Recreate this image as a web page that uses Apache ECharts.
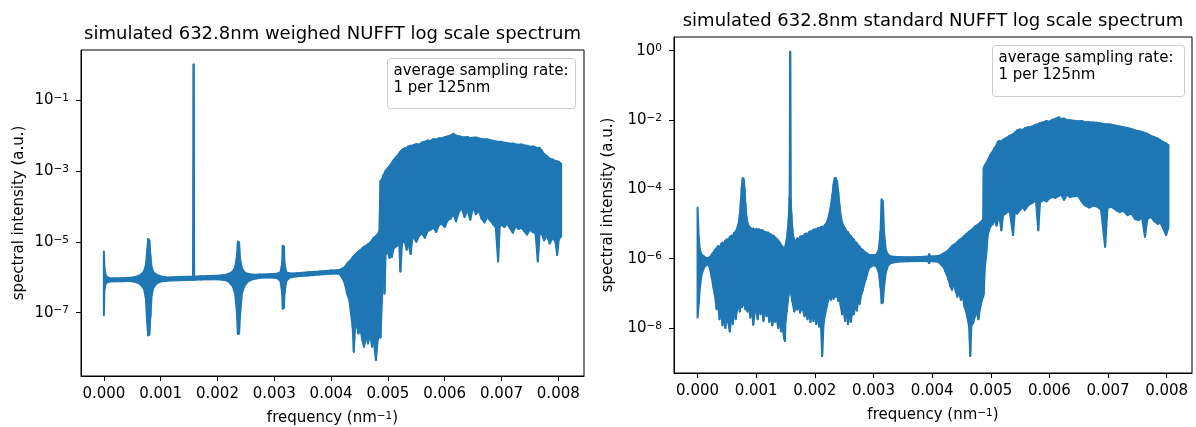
<!DOCTYPE html>
<html>
<head>
<meta charset="utf-8">
<script src="https://cdn.jsdelivr.net/npm/echarts@6/dist/echarts.min.js"></script>
<style>
  html, body { margin: 0; padding: 0; background: #fff; }
  #chart { width: 1196px; height: 427px; }
</style>
</head>
<body>
<div id="chart"></div>
<script>
// Frequency ticks (nm^-1) shared by both panels
const freqTicks = [0, 0.001, 0.002, 0.003, 0.004, 0.005, 0.006, 0.007, 0.008];
// Labelled decades on each intensity axis
const weighedDecades = [1e-7, 1e-5, 1e-3, 1e-1];
const standardDecades = [1e-8, 1e-6, 1e-4, 1e-2, 1];

// Spectrum envelopes: [frequency (nm^-1), upper intensity, lower intensity]
const weighedBand = [
  [0, 5.3e-6, 8.5e-8], [0.00001, 1.8e-6, 4.5e-7], [0.00003, 1.15e-6, 6.5e-7], [0.00006, 1.0e-6, 7.2e-7],
  [0.0001, 9.3e-7, 7.6e-7], [0.0003, 9.4e-7, 7.7e-7], [0.00045, 9.6e-7, 7.8e-7], [0.00055, 1.02e-6, 7.4e-7],
  [0.00062, 1.1e-6, 6.8e-7], [0.00067, 1.25e-6, 5.8e-7], [0.00071, 1.5e-6, 4.5e-7], [0.00074, 2.2e-6, 2.5e-7],
  [0.00076, 5.0e-6, 6e-8], [0.00078, 1.2e-5, 2.3e-8], [0.0008, 1.1e-5, 2.4e-8], [0.00082, 4.0e-6, 8e-8],
  [0.00084, 1.9e-6, 3.0e-7], [0.00087, 1.4e-6, 5.0e-7], [0.00092, 1.2e-6, 6.5e-7], [0.001, 1.05e-6, 7.6e-7],
  [0.0011, 9.9e-7, 8.0e-7], [0.0013, 1.01e-6, 8.2e-7], [0.0015, 1.03e-6, 8.4e-7], [0.00157, 1.04e-6, 8.5e-7],
  [0.00158, 1.0, 8.5e-7], [0.00159, 1.04e-6, 8.5e-7], [0.0017, 1.06e-6, 8.6e-7], [0.002, 1.1e-6, 8.8e-7],
  [0.00212, 1.15e-6, 8.4e-7], [0.0022, 1.25e-6, 7.5e-7], [0.00227, 1.45e-6, 5.5e-7], [0.00231, 1.9e-6, 3.5e-7],
  [0.00234, 3.5e-6, 1.2e-7], [0.00236, 1.0e-5, 2.5e-8], [0.00238, 9.5e-6, 2.6e-8], [0.0024, 3.0e-6, 1.0e-7],
  [0.00243, 1.8e-6, 3.5e-7], [0.00247, 1.4e-6, 5.5e-7], [0.00253, 1.25e-6, 7.5e-7], [0.00262, 1.18e-6, 8.8e-7],
  [0.00275, 1.19e-6, 9.7e-7], [0.0029, 1.22e-6, 9.9e-7], [0.00305, 1.26e-6, 9.5e-7], [0.00311, 1.4e-6, 7.8e-7],
  [0.00314, 2.5e-6, 3.5e-7], [0.00315, 7.7e-6, 1.3e-7], [0.00317, 7.2e-6, 1.4e-7], [0.00318, 2.4e-6, 3.5e-7],
  [0.00321, 1.4e-6, 7.8e-7], [0.00327, 1.28e-6, 9.8e-7], [0.0034, 1.3e-6, 1.06e-6], [0.0036, 1.38e-6, 1.12e-6],
  [0.0038, 1.46e-6, 1.19e-6], [0.004, 1.55e-6, 1.26e-6], [0.00415, 1.61e-6, 1.25e-6], [0.00418, 1.7e-6, 1.05e-6],
  [0.00422, 1.85e-6, 8.3e-7], [0.00425, 2.0e-6, 6.0e-7], [0.00428, 2.4e-6, 3.5e-7], [0.00432, 2.8e-6, 2.3e-7],
  [0.00435, 3.1e-6, 9.5e-8], [0.00438, 3.6e-6, 4.0e-8], [0.0044, 3.9e-6, 7.9e-9], [0.00442, 4.2e-6, 3.2e-8],
  [0.00445, 4.8e-6, 5.0e-8], [0.00448, 5.2e-6, 2.6e-8], [0.00452, 5.9e-6, 3.2e-8], [0.00455, 6.6e-6, 1.7e-8],
  [0.00458, 7.2e-6, 1.1e-8], [0.00462, 7.8e-6, 2.1e-8], [0.00465, 8.5e-6, 1.35e-8], [0.00469, 9.5e-6, 2.6e-8],
  [0.00472, 1.1e-5, 1.1e-8], [0.00475, 1.3e-5, 1.7e-8], [0.00479, 1.45e-5, 4.6e-9], [0.00482, 1.6e-5, 1.7e-8],
  [0.00485, 1.95e-5, 2.3e-8], [0.00487, 5.2e-4, 2.0e-8], [0.0049, 6.0e-4, 3.5e-7], [0.00492, 7.5e-4, 3.0e-6],
  [0.00494, 8.5e-4, 3.5e-7], [0.00496, 1.0e-3, 4.5e-6], [0.005, 1.2e-3, 5.0e-6], [0.00503, 1.35e-3, 3.5e-6],
  [0.00505, 1.5e-3, 5.5e-6], [0.00507, 1.7e-3, 3.8e-6], [0.0051, 2.0e-3, 6.5e-6], [0.00515, 2.5e-3, 7.5e-6],
  [0.0052, 3.1e-3, 8.5e-6], [0.00522, 3.5e-3, 1.45e-6], [0.00525, 3.9e-3, 9.5e-6], [0.0053, 4.4e-3, 1.0e-5],
  [0.00533, 4.2e-3, 6.0e-6], [0.00535, 4.8e-3, 1.1e-5], [0.0054, 5.1e-3, 4.5e-6], [0.00543, 4.9e-3, 1.2e-5],
  [0.00545, 5.4e-3, 1.35e-5], [0.0055, 5.7e-3, 1.0e-5], [0.00555, 5.5e-3, 1.5e-5], [0.0056, 6.3e-3, 1.7e-5],
  [0.00565, 6.6e-3, 1.3e-5], [0.0057, 7.2e-3, 2.0e-5], [0.00575, 7.0e-3, 2.2e-5], [0.0058, 7.9e-3, 2.5e-5],
  [0.00585, 7.6e-3, 1.9e-5], [0.0059, 8.4e-3, 3.0e-5], [0.00595, 8.2e-3, 3.2e-5], [0.006, 8.9e-3, 2.6e-5],
  [0.00605, 9.3e-3, 4.0e-5], [0.0061, 9.8e-3, 4.5e-5], [0.00615, 1.12e-2, 6.0e-5], [0.0062, 9.9e-3, 3.8e-5],
  [0.00625, 9.5e-3, 7.0e-5], [0.0063, 9.0e-3, 9.0e-5], [0.00635, 8.7e-3, 5.0e-5], [0.0064, 9.1e-3, 8.0e-5],
  [0.00645, 8.4e-3, 4.2e-5], [0.0065, 8.6e-3, 9.5e-5], [0.00655, 8.8e-3, 6.0e-5], [0.0066, 8.2e-3, 7.5e-5],
  [0.00665, 8.0e-3, 4.5e-5], [0.0067, 7.7e-3, 3.5e-5], [0.00675, 7.8e-3, 5.0e-5], [0.0068, 7.3e-3, 4.0e-5],
  [0.00685, 7.1e-3, 3.2e-5], [0.0069, 6.8e-3, 2.5e-5], [0.00694, 6.6e-3, 2.8e-6], [0.00697, 6.5e-3, 2.8e-5],
  [0.007, 6.6e-3, 3.0e-5], [0.00705, 6.2e-3, 2.6e-5], [0.0071, 6.1e-3, 3.3e-5], [0.00715, 5.8e-3, 2.4e-5],
  [0.0072, 5.9e-3, 1.8e-5], [0.00725, 5.6e-3, 2.8e-5], [0.0073, 5.5e-3, 2.3e-5], [0.00735, 5.6e-3, 2.5e-5],
  [0.0074, 5.2e-3, 2.0e-5], [0.00745, 5.1e-3, 1.6e-5], [0.0075, 4.8e-3, 2.2e-5], [0.00755, 4.9e-3, 1.9e-5],
  [0.0076, 4.6e-3, 1.7e-5], [0.00764, 4.4e-3, 2.8e-6], [0.00767, 4.5e-3, 1.6e-5], [0.0077, 3.9e-3, 1.9e-5],
  [0.00775, 3.0e-3, 1.1e-5], [0.0078, 2.6e-3, 1.5e-5], [0.00785, 2.2e-3, 9.0e-6], [0.0079, 2.1e-3, 1.3e-5],
  [0.00795, 1.9e-3, 1.0e-5], [0.00798, 1.85e-3, 4.3e-6], [0.00801, 1.8e-3, 1.2e-5], [0.00805, 1.6e-3, 1.4e-5]
];

const standardBand = [
  [0, 3.0e-5, 2.0e-8], [0.00002, 4.0e-6, 5.0e-8], [0.00004, 1.8e-6, 1.5e-7], [0.00007, 1.3e-6, 3.5e-7],
  [0.00011, 1.15e-6, 5.5e-7], [0.00015, 1.05e-6, 6.5e-7], [0.00018, 1.05e-6, 7.0e-7], [0.00021, 1.1e-6, 5.5e-7],
  [0.00024, 1.3e-6, 3.0e-7], [0.00027, 1.5e-6, 1.5e-7],
  [0.0003, 1.8e-6, 8.0e-8], [0.000325, 2.0e-6, 3.5e-8], [0.00035, 2.3e-6, 5.0e-8], [0.000375, 2.1e-6, 1.8e-8],
  [0.0004, 2.6e-6, 3.0e-8], [0.000425, 2.9e-6, 1.2e-8], [0.00045, 2.7e-6, 2.2e-8], [0.000475, 3.3e-6, 1.0e-8],
  [0.0005, 3.6e-6, 2.5e-8], [0.000525, 3.4e-6, 1.4e-8], [0.00055, 4.2e-6, 7.9e-9], [0.000575, 4.6e-6, 2.0e-8],
  [0.0006, 4.4e-6, 1.3e-8], [0.000625, 5.5e-6, 3.0e-8], [0.00065, 6.0e-6, 1.8e-8], [0.000675, 7.5e-6, 3.5e-8],
  [0.0007, 1.0e-5, 4.5e-8], [0.00072, 1.8e-5, 3.0e-8], [0.00074, 5.0e-5, 5.5e-8], [0.000755, 1.2e-4, 4.0e-8],
  [0.00077, 2.1e-4, 6.0e-8], [0.000785, 2.0e-4, 4.5e-8], [0.0008, 1.1e-4, 5.5e-8], [0.000815, 4.0e-5, 3.5e-8],
  [0.00083, 1.8e-5, 4.5e-8], [0.00085, 1.1e-5, 3.0e-8], [0.000875, 8.5e-6, 4.0e-8], [0.0009, 7.8e-6, 2.0e-8],
  [0.000925, 7.0e-6, 3.5e-8], [0.00095, 7.4e-6, 1.25e-8], [0.000975, 6.6e-6, 2.8e-8], [0.001, 7.2e-6, 3.5e-8],
  [0.001025, 6.8e-6, 1.8e-8], [0.00105, 7.0e-6, 4.0e-8], [0.001075, 6.4e-6, 2.5e-8], [0.0011, 6.7e-6, 3.2e-8],
  [0.001125, 6.1e-6, 1.6e-8], [0.00115, 6.0e-6, 3.5e-8], [0.001175, 5.6e-6, 2.2e-8], [0.0012, 5.7e-6, 2.8e-8],
  [0.001225, 5.2e-6, 1.5e-8], [0.00125, 5.0e-6, 2.6e-8], [0.001275, 4.6e-6, 1.2e-8], [0.0013, 4.6e-6, 2.4e-8],
  [0.001325, 4.0e-6, 1.5e-8], [0.00135, 3.7e-6, 2.0e-8], [0.001375, 3.3e-6, 1.0e-8], [0.0014, 2.9e-6, 1.4e-8],
  [0.001425, 2.5e-6, 8.0e-9], [0.00145, 2.2e-6, 1.2e-8], [0.001475, 1.9e-6, 5.0e-9], [0.00149, 2.0e-6, 4.2e-9],
  [0.0015, 2.4e-6, 1.5e-8], [0.00152, 3.5e-6, 3.0e-8], [0.00154, 7.0e-6, 6.0e-8], [0.001555, 1.5e-5, 9.0e-8],
  [0.00157, 6.0e-5, 1.2e-7], [0.00158, 0.93, 1.5e-7], [0.00159, 5.0e-5, 1.2e-7], [0.0016, 2.0e-5, 9.0e-8],
  [0.001615, 8.0e-6, 6.0e-8], [0.00163, 4.5e-6, 4.5e-8], [0.00165, 3.5e-6, 3.0e-8], [0.001675, 3.2e-6, 4.2e-8],
  [0.0017, 3.8e-6, 3.4e-8], [0.001725, 3.6e-6, 4.5e-8], [0.00175, 4.2e-6, 2.8e-8], [0.001775, 4.5e-6, 4.0e-8],
  [0.0018, 4.2e-6, 3.3e-8], [0.001825, 5.0e-6, 2.2e-8], [0.00185, 5.3e-6, 3.5e-8], [0.001875, 5.0e-6, 1.8e-8],
  [0.0019, 5.8e-6, 2.6e-8], [0.001925, 6.2e-6, 1.5e-8], [0.00195, 6.0e-6, 3.0e-8], [0.001975, 6.8e-6, 1.6e-8],
  [0.002, 7.0e-6, 2.4e-8], [0.002025, 6.8e-6, 1.3e-8], [0.00205, 7.6e-6, 2.0e-8], [0.002075, 7.4e-6, 1.1e-8],
  [0.0021, 8.0e-6, 1.8e-8], [0.002125, 8.4e-6, 1.55e-9], [0.00215, 8.2e-6, 1.4e-8], [0.002175, 9.5e-6, 2.5e-8],
  [0.0022, 1.05e-5, 4.0e-8], [0.002225, 1.4e-5, 6.0e-8], [0.00225, 2.0e-5, 8.0e-8], [0.002275, 3.5e-5, 6.5e-8],
  [0.0023, 7.0e-5, 9.0e-8], [0.00232, 1.4e-4, 7.0e-8], [0.00234, 2.1e-4, 1.0e-7], [0.00236, 2.1e-4, 8.0e-8],
  [0.00238, 1.6e-4, 9.0e-8], [0.0024, 8.0e-5, 6.0e-8], [0.00242, 3.5e-5, 7.5e-8], [0.00244, 1.8e-5, 4.5e-8],
  [0.002465, 1.1e-5, 2.5e-8], [0.00249, 8.5e-6, 3.5e-8], [0.002515, 7.5e-6, 1.6e-8], [0.00254, 6.2e-6, 2.8e-8],
  [0.002565, 5.8e-6, 1.3e-8], [0.00259, 4.8e-6, 2.2e-8], [0.002615, 4.5e-6, 1.5e-8], [0.00264, 3.8e-6, 3.0e-8],
  [0.002665, 3.6e-6, 2.5e-8], [0.00269, 3.0e-6, 4.2e-8], [0.002715, 2.8e-6, 3.2e-8], [0.00274, 2.4e-6, 6.0e-8],
  [0.002765, 2.2e-6, 5.0e-8], [0.00279, 1.9e-6, 9.0e-8], [0.002815, 1.8e-6, 1.2e-7], [0.00284, 1.6e-6, 1.8e-7],
  [0.002865, 1.5e-6, 2.5e-7], [0.00289, 1.4e-6, 3.5e-7], [0.002915, 1.3e-6, 5.0e-7], [0.00295, 1.27e-6, 5.8e-7],
  [0.003, 1.25e-6, 6.5e-7], [0.00305, 1.3e-6, 6.0e-7], [0.00309, 1.8e-6, 4.0e-7], [0.00312, 6.0e-6, 1.5e-7],
  [0.00314, 5.1e-5, 5.2e-8], [0.00316, 4.5e-5, 5.5e-8], [0.00318, 6.0e-6, 1.5e-7], [0.00321, 1.8e-6, 4.0e-7],
  [0.00325, 1.3e-6, 6.5e-7], [0.0033, 1.15e-6, 7.5e-7], [0.0034, 1.12e-6, 8.2e-7], [0.0036, 1.1e-6, 8.5e-7],
  [0.0038, 1.12e-6, 8.6e-7], [0.00393, 1.15e-6, 8.5e-7], [0.00395, 1.35e-6, 7.5e-7], [0.00397, 1.15e-6, 8.6e-7],
  [0.0041, 1.2e-6, 8.2e-7], [0.00413, 1.22e-6, 7.5e-7], [0.00416, 1.3e-6, 6.5e-7], [0.00419, 1.4e-6, 6.0e-7],
  [0.00422, 1.5e-6, 4.5e-7], [0.00425, 1.6e-6, 3.5e-7], [0.00428, 1.8e-6, 2.5e-7], [0.00431, 2.0e-6, 1.6e-7],
  [0.00434, 2.3e-6, 1.26e-7], [0.00437, 2.5e-6, 2.0e-7], [0.0044, 2.7e-6, 1.2e-7], [0.00443, 3.0e-6, 8.0e-8],
  [0.00446, 3.4e-6, 1.1e-7], [0.00449, 3.7e-6, 6.5e-8], [0.00452, 4.0e-6, 9.0e-8], [0.00455, 4.5e-6, 4.2e-8],
  [0.00458, 5.1e-6, 3.0e-8], [0.00461, 5.6e-6, 1.7e-8], [0.00463, 6.0e-6, 1.1e-8], [0.00465, 6.3e-6, 1.55e-9],
  [0.00467, 6.6e-6, 1.2e-8], [0.0047, 7.5e-6, 1.4e-8], [0.00473, 8.5e-6, 2.2e-8], [0.00476, 9.0e-6, 2.7e-8],
  [0.00479, 9.8e-6, 1.8e-8], [0.00482, 1.1e-5, 4.0e-8], [0.00485, 1.25e-5, 6.5e-8], [0.00487, 1.3e-5, 8.0e-8],
  [0.00488, 4.1e-4, 1.0e-7], [0.0049, 5.0e-4, 5.9e-7], [0.00492, 5.6e-4, 1.15e-6], [0.00495, 7.0e-4, 5.0e-6],
  [0.00499, 9.7e-4, 8.3e-6], [0.00503, 1.2e-3, 1.0e-5], [0.00506, 1.5e-3, 1.3e-5], [0.0051, 1.9e-3, 9.0e-6],
  [0.00512, 2.3e-3, 1.3e-5], [0.00515, 2.5e-3, 1.6e-5], [0.00518, 2.4e-3, 6.6e-6], [0.00521, 2.7e-3, 1.8e-5],
  [0.00525, 2.9e-3, 2.0e-5], [0.0053, 3.3e-3, 2.3e-5], [0.00532, 3.5e-3, 2.5e-5], [0.00538, 3.9e-3, 4.8e-6],
  [0.00541, 4.3e-3, 2.2e-5], [0.00545, 5.0e-3, 2.0e-5], [0.0055, 5.3e-3, 2.6e-5], [0.00555, 5.2e-3, 3.1e-5],
  [0.00558, 5.8e-3, 2.5e-5], [0.00564, 6.2e-3, 3.5e-5], [0.0057, 6.4e-3, 4.0e-5], [0.00577, 7.3e-3, 4.8e-5],
  [0.00581, 7.6e-3, 6.6e-6], [0.00584, 8.2e-3, 4.2e-5], [0.0059, 8.6e-3, 5.0e-5], [0.00595, 9.4e-3, 4.5e-5],
  [0.006, 9.0e-3, 5.5e-5], [0.00605, 1.02e-2, 6.0e-5], [0.0061, 1.07e-2, 5.7e-5], [0.00616, 1.2e-2, 6.5e-5],
  [0.0062, 1.05e-2, 7.1e-5], [0.00625, 1.1e-2, 5.0e-5], [0.0063, 1.0e-2, 7.0e-5], [0.00635, 9.8e-3, 6.0e-5],
  [0.00642, 9.5e-3, 6.3e-5], [0.00649, 9.2e-3, 6.5e-5], [0.00655, 9.4e-3, 4.5e-5], [0.0066, 8.8e-3, 3.5e-5],
  [0.00668, 8.6e-3, 3.0e-5], [0.00675, 8.5e-3, 3.4e-5], [0.00681, 8.3e-3, 3.2e-5], [0.00688, 8.0e-3, 2.6e-5],
  [0.00695, 7.6e-3, 2.2e-6], [0.00699, 7.6e-3, 2.8e-5], [0.00704, 7.4e-3, 3.2e-5], [0.00708, 7.2e-3, 3.0e-5],
  [0.00714, 6.8e-3, 2.5e-5], [0.0072, 6.5e-3, 2.2e-5], [0.00726, 6.2e-3, 2.4e-5], [0.00733, 5.9e-3, 1.8e-5],
  [0.0074, 5.5e-3, 2.0e-5], [0.00746, 5.0e-3, 1.4e-5], [0.00752, 4.8e-3, 1.3e-5], [0.00758, 4.5e-3, 1.5e-5],
  [0.00763, 4.2e-3, 4.3e-6], [0.00767, 4.0e-3, 1.4e-5], [0.00773, 3.5e-3, 1.6e-5], [0.00779, 3.2e-3, 1.2e-5],
  [0.00785, 2.9e-3, 1.0e-5], [0.00789, 2.6e-3, 1.1e-5], [0.00794, 2.3e-3, 7.5e-6], [0.00799, 2.1e-3, 4.8e-6],
  [0.00803, 1.9e-3, 8.0e-6]
];

const BLUE = '#1f77b4';
const FONT = 'DejaVu Sans';
const TEXT = '#000';

// One filled segment between consecutive samples of the upper/lower envelope
function bandSegment(params, api) {
  const i = params.dataIndexInside;
  if (i >= params.dataInsideLength - 1) return null;
  const f0 = api.value(0, i);
  const f1 = api.value(0, i + 1);
  const points = [
    api.coord([f0, api.value(1, i)]),
    api.coord([f1, api.value(1, i + 1)]),
    api.coord([f1, api.value(2, i + 1)]),
    api.coord([f0, api.value(2, i)])
  ];
  return {
    type: 'polygon',
    shape: { points: points },
    style: { fill: BLUE, stroke: BLUE, lineWidth: 2, lineJoin: 'round' }
  };
}

const supRich = {
  base: { fontSize: 15, lineHeight: 15, padding: [3, 0, 0, 0], verticalAlign: 'bottom', fontFamily: FONT, color: TEXT },
  sup: { fontSize: 10.5, lineHeight: 13, verticalAlign: 'top', fontFamily: FONT, color: TEXT }
};

function decadeLabel(v) {
  const e = Math.round(Math.log10(v));
  return '{base|10}{sup|' + String(e).replace('-', '\u2212') + '}';
}

const spine = { show: true, onZero: false, lineStyle: { color: '#000', width: 1 } };

function freqAxis(gridIndex, min, max) {
  return {
    type: 'value', gridIndex: gridIndex, min: min, max: max,
    name: '{base|frequency (nm}{sup|\u22121}{base|)}', nameLocation: 'middle', nameGap: 35,
    nameTextStyle: { rich: supRich },
    splitLine: { show: false },
    axisLine: spine,
    axisTick: { show: true, length: 5, customValues: freqTicks, lineStyle: { color: '#000', width: 1 } },
    axisLabel: {
      customValues: freqTicks, margin: 11, fontSize: 15, fontFamily: FONT, color: TEXT,
      formatter: function (v) { return Number(v).toFixed(3); }
    }
  };
}

function intensityAxis(gridIndex, min, max, decades, nameGap) {
  return {
    type: 'log', logBase: 10, gridIndex: gridIndex, min: min, max: max,
    name: 'spectral intensity (a.u.)', nameLocation: 'middle', nameRotate: 90, nameGap: nameGap,
    nameTextStyle: { fontSize: 15, fontFamily: FONT, color: TEXT },
    splitLine: { show: false },
    axisLine: spine,
    axisTick: { show: true, length: 5, customValues: decades, lineStyle: { color: '#000', width: 1 } },
    axisLabel: { customValues: decades, margin: 12, formatter: decadeLabel, rich: supRich }
  };
}

function legendBox(x, y, w, h) {
  return [
    {
      type: 'rect', z: 100,
      shape: { x: x, y: y, width: w, height: h, r: 3 },
      style: { fill: 'rgba(255,255,255,0.8)', stroke: '#cccccc', lineWidth: 1 }
    },
    {
      type: 'text', z: 101, x: x + 6, y: y + 4.5,
      style: {
        text: 'average sampling rate:\n1 per 125nm',
        font: '15px "' + FONT + '"', fill: TEXT, lineHeight: 17,
        textAlign: 'left', textVerticalAlign: 'top'
      }
    }
  ];
}

const chart = echarts.init(document.getElementById('chart'), null, { renderer: 'canvas' });

chart.setOption({
  animation: false,
  backgroundColor: '#fff',
  grid: [
    { left: 81, top: 50, width: 503, height: 326, outerBoundsMode: 'none', containLabel: false,
      show: true, borderColor: '#000', borderWidth: 1, backgroundColor: 'transparent' },
    { left: 674, top: 37, width: 518, height: 336, outerBoundsMode: 'none', containLabel: false,
      show: true, borderColor: '#000', borderWidth: 1, backgroundColor: 'transparent' }
  ],
  xAxis: [
    freqAxis(0, -0.0004025, 0.0084525),
    freqAxis(1, -0.0004015, 0.0084315)
  ],
  yAxis: [
    intensityAxis(0, 1.637e-9, 2.573, weighedDecades, 54),
    intensityAxis(1, 5.04e-10, 2.483, standardDecades, 58)
  ],
  series: [
    {
      type: 'custom', xAxisIndex: 0, yAxisIndex: 0, clip: true,
      dimensions: ['freq', 'upper', 'lower'], encode: { x: 0, y: [1, 2] },
      renderItem: bandSegment, data: weighedBand
    },
    {
      type: 'custom', xAxisIndex: 1, yAxisIndex: 1, clip: true,
      dimensions: ['freq', 'upper', 'lower'], encode: { x: 0, y: [1, 2] },
      renderItem: bandSegment, data: standardBand
    }
  ],
  graphic: [
    {
      type: 'text', x: 332.5, y: 34.5,
      style: { text: 'simulated 632.8nm weighed NUFFT log scale spectrum', font: '18px "' + FONT + '"', fill: TEXT, textAlign: 'center', textVerticalAlign: 'middle' }
    },
    {
      type: 'text', x: 933, y: 21,
      style: { text: 'simulated 632.8nm standard NUFFT log scale spectrum', font: '18px "' + FONT + '"', fill: TEXT, textAlign: 'center', textVerticalAlign: 'middle' }
    }
  ].concat(legendBox(387.5, 58.5, 188, 50), legendBox(992.5, 45.5, 192, 51))
});
</script>
</body>
</html>
